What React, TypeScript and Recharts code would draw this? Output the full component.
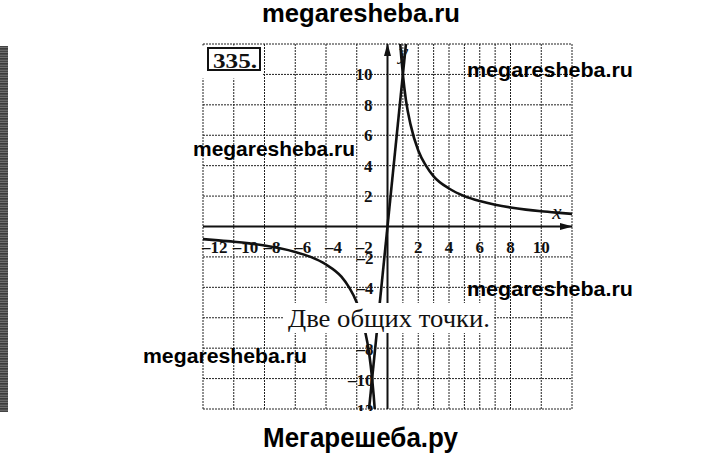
import React from "react";
import {
  LineChart,
  Line,
  XAxis,
  YAxis,
  CartesianGrid,
  ReferenceLine,
  ReferenceDot,
} from "recharts";

// grid every unit, axes from -12 to 12
const gridTicks = [
  -12, -11, -10, -9, -8, -7, -6, -5, -4, -3, -2, -1, 0,
  1, 2, 3, 4, 5, 6, 7, 8, 9, 10, 11, 12,
];
const xLabelsNeg = [-12, -10, -8, -6, -4, -2];
const xLabelsPos = [2, 4, 6, 8, 10];
const yLabelsPos = [2, 4, 6, 8, 10];
// -6 sits under the caption box in the picture
const yLabelsNeg = [-2, -4, -8, -10, -12];

// hyperbola, right branch
const rightX = [0.83, 0.9, 1, 1.2, 1.5, 2, 2.5, 3, 4, 5, 6, 7, 8, 9, 10, 11, 12];
const rightY = [12, 11.1, 10, 8.3, 6.7, 5, 4, 3.3, 2.5, 2, 1.67, 1.43, 1.25, 1.11, 1, 0.91, 0.83];

// hyperbola, left branch
const leftX = [-12, -11, -10, -9, -8, -7, -6, -5, -4, -3, -2.5, -2, -1.5, -1.2, -1, -0.9, -0.83];
const leftY = [-0.83, -0.91, -1, -1.11, -1.25, -1.43, -1.67, -2, -2.5, -3.3, -4, -5, -6.7, -8.3, -10, -11.1, -12];

// straight line through the origin
const lineX = [-1.2, 1.2];
const lineY = [-12, 12];

const toPoints = (xs: number[], ys: number[]) => xs.map((x, i) => ({ x, y: ys[i] }));

const rightBranch = toPoints(rightX, rightY);
const leftBranch = toPoints(leftX, leftY);
const straight = toPoints(lineX, lineY);

const SERIF = '"Liberation Serif", "Times New Roman", serif';
const SANS = '"Liberation Sans", Arial, sans-serif';
const INK = "#111";

const labelStyle = {
  fontFamily: SERIF,
  fontSize: 17,
  fontWeight: 700,
  fill: INK,
};

const W = 720;
const H = 455;

export default function App() {
  return (
    <div
      style={{
        position: "absolute",
        left: 0,
        top: 0,
        width: W,
        height: H,
        background: "#fff",
        overflow: "hidden",
      }}
    >
      {/* scanned page edge on the left */}
      <div
        style={{
          position: "absolute",
          left: 0,
          top: 46,
          width: 8,
          height: 366,
          background:
            "repeating-linear-gradient(0deg, #333 0px, #777 2px, #222 3px, #888 5px)",
        }}
      />
      <LineChart
        width={W}
        height={H}
        margin={{ top: 44, left: 203, right: 148, bottom: 46 }}
      >
        <CartesianGrid
          stroke="#222"
          strokeWidth={1}
          strokeDasharray="2 1"
        />
        <XAxis
          type="number"
          dataKey="x"
          domain={[-12, 12]}
          ticks={gridTicks}
          allowDataOverflow
          hide
        />
        <YAxis
          type="number"
          dataKey="y"
          domain={[-12, 12]}
          ticks={gridTicks}
          allowDataOverflow
          hide
        />
        <ReferenceLine y={0} stroke={INK} strokeWidth={2} />
        <ReferenceLine x={0} stroke={INK} strokeWidth={2} />
        <Line
          data={rightBranch}
          dataKey="y"
          type="monotone"
          stroke={INK}
          strokeWidth={2.6}
          dot={false}
          isAnimationActive={false}
        />
        <Line
          data={leftBranch}
          dataKey="y"
          type="monotone"
          stroke={INK}
          strokeWidth={2.6}
          dot={false}
          isAnimationActive={false}
        />
        <Line
          data={straight}
          dataKey="y"
          type="linear"
          stroke={INK}
          strokeWidth={2.6}
          dot={false}
          isAnimationActive={false}
        />
        {/* arrow heads */}
        <ReferenceDot
          x={12}
          y={0}
          r={0}
          ifOverflow="visible"
          shape={(p: any) => (
            <path
              d={`M${p.cx + 1},${p.cy} L${p.cx - 12},${p.cy - 3.5} L${p.cx - 12},${p.cy + 3.5} Z`}
              fill={INK}
            />
          )}
        />
        <ReferenceDot
          x={0}
          y={12}
          r={0}
          ifOverflow="visible"
          shape={(p: any) => (
            <path
              d={`M${p.cx},${p.cy - 1} L${p.cx - 3.5},${p.cy + 12} L${p.cx + 3.5},${p.cy + 12} Z`}
              fill={INK}
            />
          )}
        />
        <ReferenceDot
          x={0}
          y={12}
          r={0}
          ifOverflow="visible"
          shape={(p: any) => (
            <text
              x={p.cx + 16}
              y={p.cy + 15}
              textAnchor="middle"
              style={{ fontFamily: SERIF, fontStyle: "italic", fontSize: 21, fill: INK }}
            >
              y
            </text>
          )}
        />
        <ReferenceDot
          x={12}
          y={0}
          r={0}
          ifOverflow="visible"
          shape={(p: any) => (
            <text
              x={p.cx - 15}
              y={p.cy - 8}
              textAnchor="middle"
              style={{ fontFamily: SERIF, fontStyle: "italic", fontSize: 21, fill: INK }}
            >
              x
            </text>
          )}
        />
        {/* tick labels next to the axes */}
        {xLabelsNeg.map((v) => (
          <ReferenceDot
            key={`xn${v}`}
            x={v}
            y={0}
            r={0}
            ifOverflow="visible"
            shape={(p: any) => (
              <text x={p.cx - 1} y={p.cy + 26} textAnchor="start" style={labelStyle}>
                {`–${Math.abs(v)}`}
              </text>
            )}
          />
        ))}
        {xLabelsPos.map((v) => (
          <ReferenceDot
            key={`xp${v}`}
            x={v}
            y={0}
            r={0}
            ifOverflow="visible"
            shape={(p: any) => (
              <text x={p.cx} y={p.cy + 26} textAnchor="middle" style={labelStyle}>
                {v}
              </text>
            )}
          />
        ))}
        {yLabelsPos.map((v) => (
          <ReferenceDot
            key={`yp${v}`}
            x={0}
            y={v}
            r={0}
            ifOverflow="visible"
            shape={(p: any) => (
              <text x={p.cx - 15} y={p.cy + 6} textAnchor="end" style={labelStyle}>
                {v}
              </text>
            )}
          />
        ))}
        {yLabelsNeg.map((v) => (
          <ReferenceDot
            key={`yn${v}`}
            x={0}
            y={v}
            r={0}
            ifOverflow="visible"
            shape={(p: any) => (
              <text x={p.cx - 14} y={p.cy + 7} textAnchor="end" style={labelStyle}>
                {`–${Math.abs(v)}`}
              </text>
            )}
          />
        ))}
      </LineChart>

      {/* page annotations on top of the chart */}
      <svg
        width={W}
        height={H}
        style={{ position: "absolute", left: 0, top: 0, pointerEvents: "none" }}
      >
        <rect x={340} y={411} width={60} height={12} fill="#fff" />
        <rect x={202} y={45.5} width={61} height={33} fill="#fff" />
        <rect x={208} y={48} width={52} height={22} fill="#fff" stroke={INK} strokeWidth={2} />
        <text
          x={213}
          y={68}
          textLength={44}
          lengthAdjust="spacingAndGlyphs"
          style={{ fontFamily: SERIF, fontWeight: 700, fontSize: 22, fill: INK }}
        >
          335.
        </text>

        <rect x={283} y={303} width={210} height={30} fill="#fff" />
        <text
          x={288}
          y={327}
          textLength={202}
          lengthAdjust="spacingAndGlyphs"
          style={{ fontFamily: SERIF, fontSize: 25, fill: INK }}
        >
          Две общих точки.
        </text>

        <g style={{ fontFamily: SANS, fontWeight: 700, fill: "#000" }}>
          <text x={262} y={22} fontSize={25} textLength={198} lengthAdjust="spacingAndGlyphs">
            megaresheba.ru
          </text>
          <text x={467} y={77} fontSize={21} textLength={166} lengthAdjust="spacingAndGlyphs">
            megaresheba.ru
          </text>
          <text x={193} y={156} fontSize={21} textLength={162} lengthAdjust="spacingAndGlyphs">
            megaresheba.ru
          </text>
          <text x={467} y={296} fontSize={21} textLength={166} lengthAdjust="spacingAndGlyphs">
            megaresheba.ru
          </text>
          <text x={143} y={363} fontSize={21} textLength={164} lengthAdjust="spacingAndGlyphs">
            megaresheba.ru
          </text>
          <text x={263} y={447} fontSize={28} textLength={195} lengthAdjust="spacingAndGlyphs">
            Мегарешеба.ру
          </text>
        </g>
      </svg>
    </div>
  );
}
